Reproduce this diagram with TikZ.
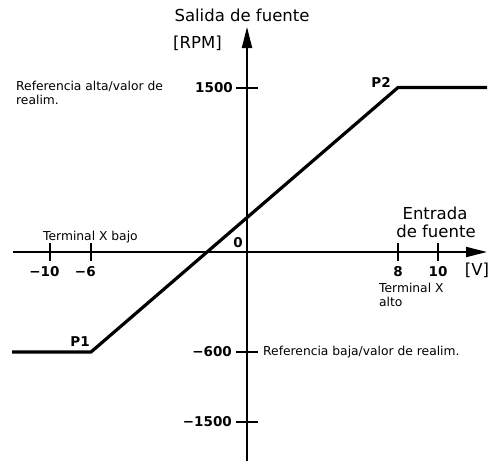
\documentclass[tikz,border=0pt]{standalone}
\usepackage{fontspec}
\setmainfont{DejaVu Sans}
\usetikzlibrary{arrows.meta}
\begin{document}
\begin{tikzpicture}[x=1pt,y=-1pt,
  axis/.style={line width=1.9pt, -{Triangle[length=21pt,width=10pt]}},
  tickmark/.style={line width=1.1pt},
  curve/.style={line width=3.2pt, line join=miter},
  big/.style={font=\fontsize{16.5}{19}\selectfont, inner sep=0pt},
  num/.style={font=\fontsize{13.5}{15}\selectfont\bfseries, inner sep=0pt},
  small/.style={font=\fontsize{12.3}{14}\selectfont, inner sep=0pt, align=left},
]
\useasboundingbox (0,0) rectangle (496,461);
% axes
\coordinate (yb) at (247,461);
\coordinate (yt) at (247,27);
\coordinate (xl) at (13,252);
\coordinate (xr) at (487,252);
\draw[axis] (yb) -- (yt);
\draw[axis] (xl) -- (xr);
% x ticks
\foreach \x/\n in {50/tm10, 91/tm6, 398/tp8, 438/tp10} {
  \coordinate (\n a) at (\x,243);
  \coordinate (\n b) at (\x,261);
  \draw[tickmark] (\n a) -- (\n b);
}
% y ticks
\foreach \y/\n in {88/ty1500, 352/tym600, 422/tym1500} {
  \coordinate (\n a) at (236,\y);
  \coordinate (\n b) at (258,\y);
  \draw[tickmark] (\n a) -- (\n b);
}
% curve
\coordinate (c0) at (12,352);
\coordinate (P1c) at (91,352);
\coordinate (P2c) at (398,87.5);
\coordinate (c3) at (487,87.5);
\draw[curve] (c0) -- (P1c) -- (P2c) -- (c3);
% labels
\node[big] (ytitle) at (242,15) {Salida de fuente};
\node[big, anchor=west] (yunit) at (173,43) {[RPM]};
\node[small, anchor=north west] (refhigh) at (16,81) {Referencia alta/valor de\\realim.};
\node[num, anchor=east] (l1500) at (233,88) {1500};
\node[num] (lP2) at (381,82) {P2};
\node[num] (lP1) at (80,342) {P1};
\node[num] (l0) at (238,243) {0};
\node[small, anchor=west] (tlow) at (43,237) {Terminal X bajo};
\node[num] (lm10) at (50,272) {\llap{−}10};
\node[num] (lm6) at (91,272) {\llap{−}6};
\node[num] (l8) at (398,272) {8};
\node[num] (l10) at (438,272) {10};
\node[big] (xunit) at (477,270) {[V]};
\node[big] (xin1) at (435,213) {Entrada};
\node[big] (xin2) at (436,231) {de fuente};
\node[small, anchor=north west] (thigh) at (379,283) {Terminal X\\alto};
\node[num, anchor=east] (lm600) at (232,352) {−600};
\node[num, anchor=east] (lm1500) at (232,422) {−1500};
\node[small, anchor=west] (reflow) at (263,352) {Referencia baja/valor de realim.};
\end{tikzpicture}
\end{document}
